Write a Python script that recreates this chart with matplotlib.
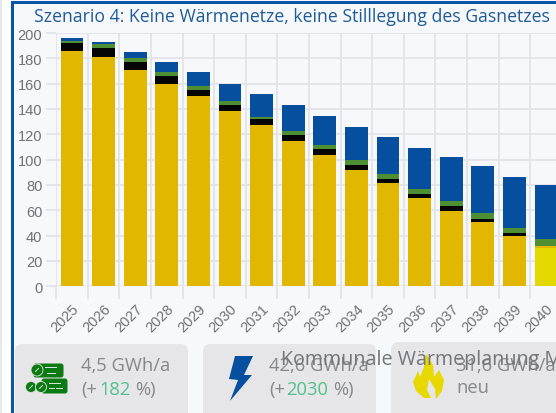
import numpy as np
import matplotlib
matplotlib.use('Agg')
import matplotlib.pyplot as plt
from matplotlib.patches import FancyBboxPatch, Polygon, Circle, Rectangle
from matplotlib.transforms import ScaledTranslation

years = list(range(2025, 2041))
# stacked segments, GWh/a, bottom to top
neu = [0, 0, 0, 0, 0, 0, 0, 0, 0, 0, 0, 0, 0, 0, 0, 30.5]
gas = [186, 181, 171, 160, 150, 138, 127, 115, 103.5, 92, 81.5, 70, 59.5, 51, 40, 1.5]
oel = [6, 7, 6, 6, 5, 5, 5, 4.5, 4.5, 4, 3.5, 3, 3.5, 2, 2, 0]
biomasse = [2, 3, 3, 3, 3, 3, 2, 3, 3.5, 3.5, 4, 4, 4, 4.5, 4, 5]
strom = [2, 2, 5, 8, 11, 14, 18, 20.5, 23, 26.5, 29, 32.5, 35, 37.5, 40.5, 43]

farben = ['#e3d800', '#e2b700', '#050505', '#4f8f34', '#064f9e']
yticks = [0, 20, 40, 60, 80, 100, 120, 140, 160, 180, 200]

W, H = 556, 414
fig = plt.figure(figsize=(W / 100, H / 100), dpi=100, facecolor='#f7f8fb')

# background layer in pixels
bg = fig.add_axes([0, 0, 1, 1])
bg.set_xlim(0, W)
bg.set_ylim(H, 0)
bg.axis('off')
bg.add_patch(Rectangle((0, 0), 10, H, color='#ffffff', lw=0))
bg.add_patch(Rectangle((0, 0), 1.5, H, color='#e6e7ea', lw=0))
bg.add_patch(Rectangle((10.5, 2), 3, H, color='#0a55a5', lw=0))
bg.add_patch(Rectangle((10.5, 2), W, 2.5, color='#0a55a5', lw=0))

panels = [(15, 345, 173), (203, 345, 173), (391, 343, 190)]
for px, py, pw in panels:
    bg.add_patch(FancyBboxPatch((px + 8, py + 8), pw - 16, 90, boxstyle='round,pad=8',
                                fc='#e6e6e8', ec='none'))

# wood icon
gruen = '#0b7a12'
bg.add_patch(FancyBboxPatch((36, 367), 25, 9, boxstyle='round,pad=2.5', fc=gruen, ec='none'))
bg.add_patch(FancyBboxPatch((44, 382), 21, 10, boxstyle='round,pad=2.5', fc=gruen, ec='none'))
for cx, cy, r in [(37, 371, 6), (31, 388, 5.5), (41, 388, 5.5)]:
    bg.add_patch(Circle((cx, cy), r, fc=gruen, ec='#dfe8df', lw=0.6))
    bg.plot([cx - 1.5, cx + 1.5], [cy + 1.5, cy - 1.5], color='#dfe8df', lw=0.7)
for x0, x1, yy in [(45, 56, 368), (47, 55, 374), (49, 60, 384), (49, 54, 389), (56, 62, 389)]:
    bg.plot([x0, x1], [yy, yy], color='#dfe8df', lw=0.7)

# lightning icon
bg.add_patch(Polygon([(235, 357), (253, 357), (244, 376), (252, 376), (230, 402), (238, 381), (229, 380)],
                     fc='#064f9e', ec='none'))
# flame icon
bg.add_patch(Polygon([(426, 355), (433, 366), (434, 378), (439, 371), (444, 381), (442, 392), (436, 400),
                      (435, 390), (429, 380), (427, 391), (431, 399), (424, 399), (416, 392), (413, 383),
                      (418, 372), (420, 378), (424, 368)],
                     fc='#e6d800', ec='none'))

# chart
left, right = 56.2, 56.2 + 16 * 31.6
top, bottom = 34.0, 287.2
ax = fig.add_axes([left / W, 1 - bottom / H, (right - left) / W, (bottom - top) / H])
ax.patch.set_alpha(0)
x = np.arange(len(years))
unten = np.zeros(len(years))
for werte, farbe in zip([neu, gas, oel, biomasse, strom], farben):
    ax.bar(x, werte, width=0.72, bottom=unten, color=farbe, zorder=3)
    unten = unten + np.array(werte)

ax.set_xlim(-0.5, 15.5)
ax.set_ylim(0, 200)
ax.set_yticks(yticks)
ax.set_xticks(np.arange(-0.5, 16, 1))
ax.set_xticklabels([])
ax.set_xticks(x, minor=True)
ax.set_xticklabels([str(j) for j in years], minor=True, rotation=45, ha='right', va='top',
                   rotation_mode='anchor', fontsize=10.5, color='#6f7174', fontfamily='Liberation Sans')
shift = ScaledTranslation(-4 / 100, 0, fig.dpi_scale_trans)
for lab in ax.get_xticklabels(minor=True):
    lab.set_transform(lab.get_transform() + shift)
ax.tick_params(axis='x', which='minor', length=0, pad=11)
ax.tick_params(axis='x', which='major', length=9, width=1.2, color='#dfe2ea')
ax.tick_params(axis='y', length=7, width=1.2, color='#dfe2ea', pad=3, labelsize=10.5, labelcolor='#6f7174')
for lab in ax.get_yticklabels():
    lab.set_fontfamily('Liberation Sans')
ax.grid(True, which='major', color='#e2e4ea', lw=1.3, zorder=0)
ax.set_axisbelow(True)
for s in ax.spines.values():
    s.set_visible(False)

# texts
bg2 = fig.add_axes([0, 0, 1, 1])
bg2.set_xlim(0, W)
bg2.set_ylim(H, 0)
bg2.axis('off')
bg2.text(34, 17, 'Szenario 4: Keine Wärmenetze, keine Stilllegung des Gasnetzes', fontsize=12.7,
         color='#1f5c96', va='center', fontfamily='Open Sans')
grau = '#85878a'
tgreen = '#52c08f'
fs = 13.2
bg2.text(81, 366, '4,5 GWh/a', fontsize=fs, color=grau, va='center', fontfamily='Open Sans')
bg2.text(81, 390, '(+', fontsize=fs, color=grau, va='center', fontfamily='Open Sans')
bg2.text(99, 390, '182', fontsize=fs, color=tgreen, va='center', fontfamily='Open Sans')
bg2.text(135, 390, '%)', fontsize=fs, color=grau, va='center', fontfamily='Open Sans')
bg2.text(269, 366, '42,6 GWh/a', fontsize=fs, color=grau, va='center', fontfamily='Open Sans')
bg2.text(269, 390, '(+', fontsize=fs, color=grau, va='center', fontfamily='Open Sans')
bg2.text(286, 390, '2030', fontsize=fs, color=tgreen, va='center', fontfamily='Open Sans')
bg2.text(333, 390, '%)', fontsize=fs, color=grau, va='center', fontfamily='Open Sans')
bg2.text(456, 366, '31,6 GWh/a', fontsize=fs, color=grau, va='center', fontfamily='Open Sans')
bg2.text(456, 388, 'neu', fontsize=fs, color=grau, va='center', fontfamily='Open Sans')
bg2.text(281, 360, 'Kommunale Wärmeplanung M', fontsize=14.2, color='#737578', va='center',
         fontfamily='Open Sans')

fig.savefig('out.png', dpi=100, facecolor=fig.get_facecolor())
